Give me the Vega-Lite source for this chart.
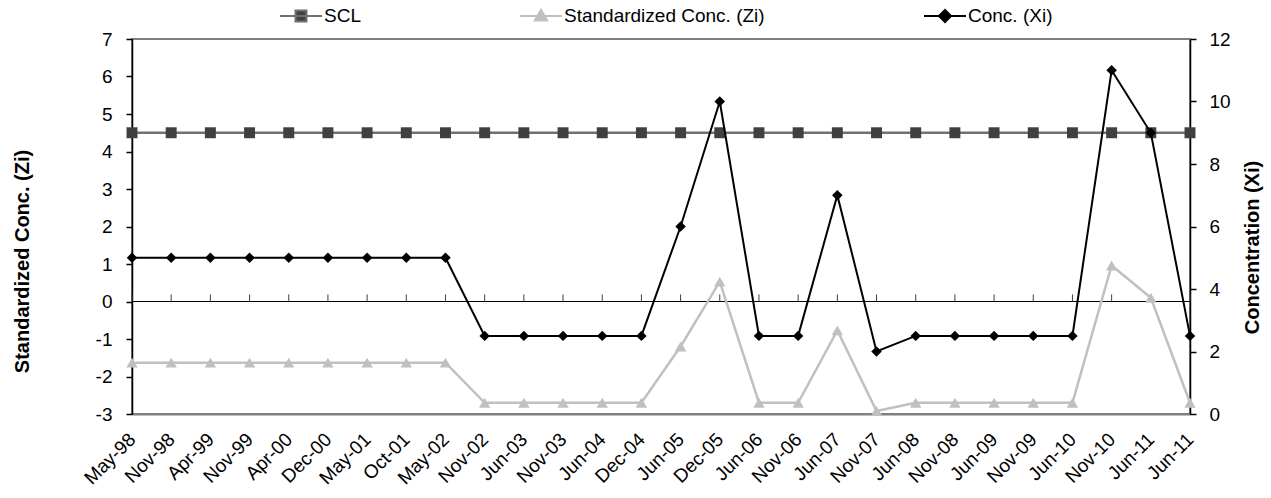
{
  "$schema": "https://vega.github.io/schema/vega-lite/v6.json",
  "width": 1058,
  "height": 375,
  "autosize": "none",
  "padding": {"left": 132, "top": 39, "right": 81, "bottom": 84},
  "config": {
    "font": "Liberation Sans",
    "view": {"stroke": "#808080", "strokeWidth": 2},
    "axis": {
      "grid": false,
      "labelFont": "Liberation Sans",
      "titleFont": "Liberation Sans",
      "labelFontSize": 19,
      "labelColor": "#000000",
      "labelOverlap": false,
      "titleFontSize": 20,
      "titleFontWeight": "bold",
      "titleColor": "#000000",
      "domainColor": "#000000",
      "tickColor": "#000000",
      "domainWidth": 1.5,
      "tickWidth": 1.5,
      "tickSize": 6
    },
    "axisLeft": {"labelPadding": 14, "titlePadding": 63, "titleY": 222, "tickCount": 10, "labelExpr": "'' + datum.value"},
    "axisRight": {"labelPadding": 13, "titlePadding": 12, "titleAngle": 270, "titleBaseline": "top", "titleY": 208, "tickCount": 6},
    "legend": {
      "orient": "none",
      "legendX": 158,
      "legendY": -34,
      "direction": "horizontal",
      "title": null,
      "labelFont": "Liberation Sans",
      "labelFontSize": 19,
      "labelColor": "#000000",
      "labelLimit": 400,
      "symbolSize": 400,
      "labelOffset": 12,
      "columnPadding": 155
    }
  },
  "data": {
    "values": [
      {"date": "May-98", "scl": 4.5, "zi": -1.63, "xi": 5},
      {"date": "Nov-98", "scl": 4.5, "zi": -1.63, "xi": 5},
      {"date": "Apr-99", "scl": 4.5, "zi": -1.63, "xi": 5},
      {"date": "Nov-99", "scl": 4.5, "zi": -1.63, "xi": 5},
      {"date": "Apr-00", "scl": 4.5, "zi": -1.63, "xi": 5},
      {"date": "Dec-00", "scl": 4.5, "zi": -1.63, "xi": 5},
      {"date": "May-01", "scl": 4.5, "zi": -1.63, "xi": 5},
      {"date": "Oct-01", "scl": 4.5, "zi": -1.63, "xi": 5},
      {"date": "May-02", "scl": 4.5, "zi": -1.63, "xi": 5},
      {"date": "Nov-02", "scl": 4.5, "zi": -2.7, "xi": 2.5},
      {"date": "Jun-03", "scl": 4.5, "zi": -2.7, "xi": 2.5},
      {"date": "Nov-03", "scl": 4.5, "zi": -2.7, "xi": 2.5},
      {"date": "Jun-04", "scl": 4.5, "zi": -2.7, "xi": 2.5},
      {"date": "Dec-04", "scl": 4.5, "zi": -2.7, "xi": 2.5},
      {"date": "Jun-05", "scl": 4.5, "zi": -1.2, "xi": 6},
      {"date": "Dec-05", "scl": 4.5, "zi": 0.53, "xi": 10},
      {"date": "Jun-06", "scl": 4.5, "zi": -2.7, "xi": 2.5},
      {"date": "Nov-06", "scl": 4.5, "zi": -2.7, "xi": 2.5},
      {"date": "Jun-07", "scl": 4.5, "zi": -0.77, "xi": 7},
      {"date": "Nov-07", "scl": 4.5, "zi": -2.92, "xi": 2},
      {"date": "Jun-08", "scl": 4.5, "zi": -2.7, "xi": 2.5},
      {"date": "Nov-08", "scl": 4.5, "zi": -2.7, "xi": 2.5},
      {"date": "Jun-09", "scl": 4.5, "zi": -2.7, "xi": 2.5},
      {"date": "Nov-09", "scl": 4.5, "zi": -2.7, "xi": 2.5},
      {"date": "Jun-10", "scl": 4.5, "zi": -2.7, "xi": 2.5},
      {"date": "Nov-10", "scl": 4.5, "zi": 0.96, "xi": 11},
      {"date": "Jun-11", "scl": 4.5, "zi": 0.1, "xi": 9},
      {"date": "Jun-11 ", "scl": 4.5, "zi": -2.7, "xi": 2.5}
    ]
  },
  "encoding": {
    "x": {
      "field": "date",
      "type": "ordinal",
      "sort": null,
      "scale": {"type": "point", "padding": 0},
      "axis": {
        "title": null,
        "labelAngle": -45,
        "labelAlign": "right",
        "labelBaseline": "middle",
        "labelPadding": 22,
        "ticks": false,
        "domainColor": "#808080",
        "domainWidth": 2
      }
    }
  },
  "layer": [
    {
      "encoding": {
        "y": {"type": "quantitative"}
      },
      "layer": [
        {
          "mark": {"type": "rule", "color": "#000000", "strokeWidth": 1},
          "encoding": {
            "x": null,
            "y": {"datum": 0, "type": "quantitative", "title": "Standardized Conc. (Zi)", "scale": {"domain": [-3, 7], "nice": false, "zero": false}, "axis": {"orient": "left"}}
          }
        },
        {
          "mark": {"type": "rule", "color": "#404040", "strokeWidth": 1},
          "encoding": {
            "y": {"datum": 0, "type": "quantitative", "title": "Standardized Conc. (Zi)"},
            "y2": {"datum": 0.19}
          }
        },
        {
          "mark": {"type": "line", "strokeWidth": 2.5},
          "encoding": {
            "y": {"field": "scl", "type": "quantitative", "title": "Standardized Conc. (Zi)"},
            "color": {
              "datum": "SCL",
              "scale": {"domain": ["SCL", "Standardized Conc. (Zi)", "Conc. (Xi)"], "range": ["#707070", "#c0c0c0", "#000000"]},
              "legend": {
                "encode": {
                  "symbols": {
                    "update": {
                      "shape": {"signal": "datum.value === 'SCL' ? 'M-2.1,0H2.1M-0.55,-0.55H0.55V0.55H-0.55Z' : datum.value === 'Conc. (Xi)' ? 'M-2.1,0H2.1M0,-0.6L0.6,0L0,0.6L-0.6,0Z' : 'M-2.1,0H2.1M0,-0.62L0.62,0.45H-0.62Z'"},
                      "fill": {"signal": "datum.value === 'SCL' ? '#404040' : datum.value === 'Conc. (Xi)' ? '#000000' : '#c0c0c0'"},
                      "stroke": {"scale": "color", "field": "value"},
                      "strokeWidth": {"value": 2},
                      "opacity": {"value": 1}
                    }
                  }
                }
              }
            }
          }
        },
        {
          "mark": {"type": "point", "shape": "square", "filled": true, "color": "#404040", "size": 120, "opacity": 1},
          "encoding": {
            "y": {"field": "scl", "type": "quantitative", "title": "Standardized Conc. (Zi)"}
          }
        },
        {
          "mark": {"type": "line", "strokeWidth": 2.5},
          "encoding": {
            "y": {"field": "zi", "type": "quantitative", "title": "Standardized Conc. (Zi)"},
            "color": {"datum": "Standardized Conc. (Zi)"}
          }
        },
        {
          "mark": {"type": "point", "shape": "triangle-up", "filled": true, "color": "#c0c0c0", "size": 130, "opacity": 1},
          "encoding": {
            "y": {"field": "zi", "type": "quantitative", "title": "Standardized Conc. (Zi)"}
          }
        }
      ]
    },
    {
      "layer": [
        {
          "mark": {"type": "line", "strokeWidth": 2},
          "encoding": {
            "y": {"field": "xi", "type": "quantitative", "title": "Concentration (Xi)", "scale": {"domain": [0, 12], "nice": false}, "axis": {"orient": "right"}},
            "color": {"datum": "Conc. (Xi)"}
          }
        },
        {
          "mark": {"type": "point", "shape": "diamond", "filled": true, "color": "#000000", "size": 110, "opacity": 1},
          "encoding": {
            "y": {"field": "xi", "type": "quantitative", "title": "Concentration (Xi)"}
          }
        }
      ]
    }
  ],
  "resolve": {"scale": {"y": "independent"}}
}
